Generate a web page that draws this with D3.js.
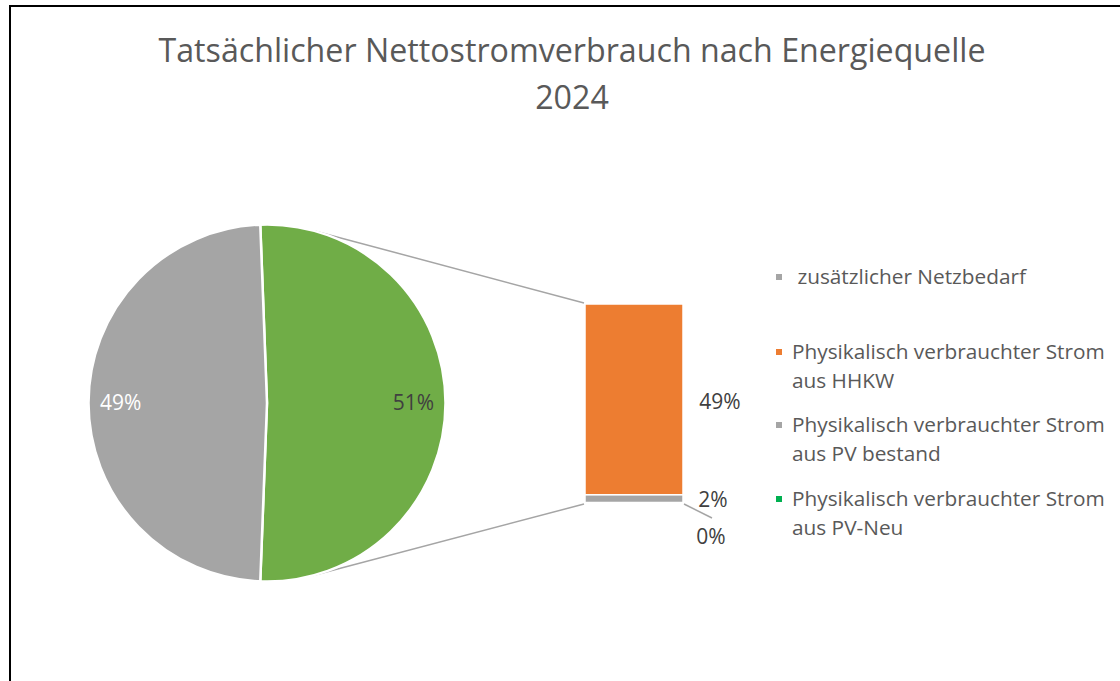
<!DOCTYPE html>
<html>
<head>
<meta charset="utf-8">
<script src="https://cdn.jsdelivr.net/npm/d3@7"></script>
<style>
  html, body { margin: 0; padding: 0; background: #fff; }
  svg { display: block; }
</style>
</head>
<body>
<svg id="chart" width="1120" height="681"></svg>
<script>
// ---- data ----
const titleLines = ["Tatsächlicher Nettostromverbrauch nach Energiequelle", "2024"];
const categories = [
  "zusätzlicher Netzbedarf",
  "Physikalisch verbrauchter Strom aus HHKW",
  "Physikalisch verbrauchter Strom aus PV bestand",
  "Physikalisch verbrauchter Strom aus PV-Neu"
];
const legendLines = [
  [" zusätzlicher Netzbedarf"],
  ["Physikalisch verbrauchter Strom", "aus HHKW"],
  ["Physikalisch verbrauchter Strom", "aus PV bestand"],
  ["Physikalisch verbrauchter Strom", "aus PV-Neu"]
];
const values = [48.8, 49.1, 2.0, 0.1];          // percent
const pieLabels = ["49%", "51%"];               // Netzbedarf, Rest (bar)
const barLabels = ["49%", "2%", "0%"];           // HHKW, PV bestand, PV-Neu
const seriesColors = ["#A5A5A5", "#ED7D31", "#A5A5A5", "#00B050"];
const otherColor = "#70AD47";

// ---- layout ----
const svg = d3.select("#chart");
const W = 1120, H = 681;
const font = "'Open Sans', 'DejaVu Sans', sans-serif";
const fs = 21;

// border
svg.append("path")
  .attr("d", `M10,${H + 5} L10,6 L${W + 5},6`)
  .attr("fill", "none").attr("stroke", "#000").attr("stroke-width", 2);

// title
const title = svg.append("text")
  .attr("text-anchor", "middle")
  .attr("font-family", font).attr("font-size", 32.2).attr("font-weight", 400)
  .attr("fill", "#595959");
titleLines.forEach((t, i) => {
  title.append("tspan").attr("x", 572).attr("y", 62 + i * 47).text(t);
});

// pie
const cx = 267, cy = 403, r = 178.5;
const netz = values[0];
const barVals = values.slice(1);
const other = d3.sum(barVals);
const total = netz + other;
const otherSpan = 2 * Math.PI * other / total;
const pie = d3.pie().sort(null).value(d => d.v)
  .startAngle(Math.PI / 2 - otherSpan / 2)
  .endAngle(Math.PI / 2 - otherSpan / 2 + 2 * Math.PI);
const pieData = pie([{ k: "other", v: other, c: otherColor, lab: pieLabels[1], fc: "#404040" },
                     { k: "netz", v: netz, c: seriesColors[0], lab: pieLabels[0], fc: "#ffffff" }]);
const arc = d3.arc().innerRadius(0).outerRadius(r);
const labelArc = d3.arc().innerRadius(r * 0.82).outerRadius(r * 0.82);

// bar
const barX = 585, barW = 98, barTop = 304, barBottom = 503;
const y = d3.scaleLinear().domain([0, other]).range([barTop, barBottom]);
const stacked = [];
let acc = 0;
barVals.forEach((v, i) => {
  stacked.push({ v, y0: acc, y1: acc + v, c: seriesColors[i + 1], lab: barLabels[i] });
  acc += v;
});

// connector lines (tangent from bar corners to pie)
function tangent(px, py, upper) {
  const dx = px - cx, dy = py - cy;
  const d = Math.hypot(dx, dy);
  const phi = Math.atan2(dy, dx);
  const a = Math.acos(r / d);
  const ang = upper ? phi - a : phi + a;
  return [cx + r * Math.cos(ang), cy + r * Math.sin(ang)];
}
const t1 = tangent(barX, y(0), true);
const t2 = tangent(barX, y(other), false);
svg.append("line").attr("x1", t1[0]).attr("y1", t1[1]).attr("x2", barX - 1).attr("y2", y(0) - 1)
  .attr("stroke", "#A5A5A5").attr("stroke-width", 1.5);
svg.append("line").attr("x1", t2[0]).attr("y1", t2[1]).attr("x2", barX - 1).attr("y2", y(other) + 1)
  .attr("stroke", "#A5A5A5").attr("stroke-width", 1.5);

const pg = svg.append("g").attr("transform", `translate(${cx},${cy})`);
pg.selectAll("path").data(pieData).enter().append("path")
  .attr("d", arc).attr("fill", d => d.data.c)
  .attr("stroke", "#fff").attr("stroke-width", 2.5).attr("stroke-linejoin", "round");
pg.selectAll("text").data(pieData).enter().append("text")
  .attr("transform", d => `translate(${labelArc.centroid(d)})`)
  .attr("text-anchor", "middle").attr("dy", "0.35em")
  .attr("font-family", font).attr("font-size", fs)
  .attr("fill", d => d.data.fc).text(d => d.data.lab);

svg.selectAll("rect.seg").data(stacked).enter().append("rect")
  .attr("class", "seg")
  .attr("x", barX).attr("width", barW)
  .attr("y", d => y(d.y0)).attr("height", d => Math.max(0, y(d.y1) - y(d.y0)))
  .attr("fill", d => d.c).attr("stroke", "#fff").attr("stroke-width", 1.5);

// bar labels
const lblX = [720, 713, 711];
const lblY = [
  (y(stacked[0].y0) + y(stacked[0].y1)) / 2 + 2,
  (y(stacked[1].y0) + y(stacked[1].y1)) / 2 + 1,
  537
];
// leader line for 0%
svg.append("line").attr("x1", barX + barW + 1).attr("y1", y(other) + 1)
  .attr("x2", 712).attr("y2", 518)
  .attr("stroke", "#A5A5A5").attr("stroke-width", 1.5);
svg.selectAll("text.bl").data(stacked).enter().append("text")
  .attr("class", "bl")
  .attr("x", (d, i) => lblX[i]).attr("y", (d, i) => lblY[i])
  .attr("text-anchor", "middle").attr("dy", "0.35em")
  .attr("font-family", font).attr("font-size", fs)
  .attr("fill", "#404040").text(d => d.lab);

// legend
const legY = [277, 352, 425, 499];
const lg = svg.append("g");
categories.forEach((c, i) => {
  const g = lg.append("g").attr("transform", `translate(776,${legY[i]})`);
  g.append("rect").attr("x", 0).attr("y", -3).attr("width", 6).attr("height", 6)
    .attr("fill", seriesColors[i]);
  const t = g.append("text").attr("font-family", font).attr("font-size", 20.8)
    .attr("fill", "#595959").attr("xml:space", "preserve");
  legendLines[i].forEach((ln, j) => {
    t.append("tspan").attr("x", 16).attr("y", j * 29).attr("dy", "0.35em").text(ln);
  });
});
</script>
</body>
</html>
